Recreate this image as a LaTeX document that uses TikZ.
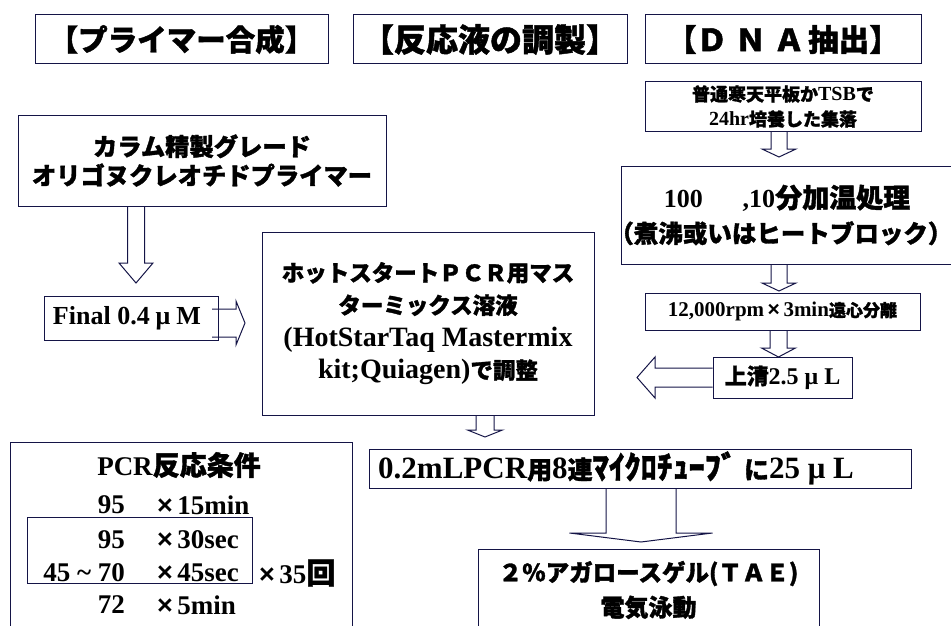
\documentclass[tikz,border=0pt]{standalone}
\usepackage{fontspec}
\setmainfont{Liberation Serif}
\newfontfamily\jp{Noto Sans CJK JP}[BoldFeatures={FakeBold=1.4}]
\newfontfamily\ls{Liberation Sans}
\usetikzlibrary{calc}
\newcommand\J[1]{{\jp #1}}
\newcommand\X{{\ls ×}}
\definecolor{boxc}{RGB}{20,20,70}
\newcommand\fs[2]{\fontsize{#1}{#2}\selectfont}
% block arrows: #1 start point, #2 tip point, #3 shaft half width, #4 head half width, #5 head length
\newcommand\bdown[5]{\draw[arr] let \p1=#1, \p2=#2 in
  (\x2-#3pt,\y1) -- (\x2-#3pt,\y2+#5pt) -- (\x2-#4pt,\y2+#5pt) -- (\p2)
  -- (\x2+#4pt,\y2+#5pt) -- (\x2+#3pt,\y2+#5pt) -- (\x2+#3pt,\y1);}
\newcommand\bleft[5]{\draw[arr] let \p1=#1, \p2=#2 in
  (\x1,\y2+#3pt) -- (\x2+#5pt,\y2+#3pt) -- (\x2+#5pt,\y2+#4pt) -- (\p2)
  -- (\x2+#5pt,\y2-#4pt) -- (\x2+#5pt,\y2-#3pt) -- (\x1,\y2-#3pt);}
\newcommand\bright[5]{\draw[arr] let \p1=#1, \p2=#2 in
  (\x1,\y2+#3pt) -- (\x2-#5pt,\y2+#3pt) -- (\x2-#5pt,\y2+#4pt) -- (\p2)
  -- (\x2-#5pt,\y2-#4pt) -- (\x2-#5pt,\y2-#3pt) -- (\x1,\y2-#3pt);}
\begin{document}
\begin{tikzpicture}[x=1pt,y=-1pt,
  box/.style={draw=boxc, line width=1pt, inner sep=0pt, align=center},
  txt/.style={inner sep=0pt},
  arr/.style={draw=boxc, line width=1pt, line join=miter}]
\useasboundingbox (0,0) rectangle (951,626);
% titles
\node[box, minimum width=293, minimum height=49, font=\bfseries\fs{29.5}{30}] (t1) at (181.5,39.5) {\J{【プライマー合成】}};
\node[box, minimum width=274, minimum height=49, font=\bfseries\fs{32}{32}] (t2) at (490,39.5) {\J{【反応液の調製】}};
\node[box, minimum width=276, minimum height=49, font=\bfseries\fs{30.5}{31}] (t3) at (783,39.5) {\J{【Ｄ\hspace{8pt}Ｎ\hspace{8pt}Ａ\hspace{4pt}抽出】}};
% DNA column
\node[box, minimum width=276, minimum height=49, font=\bfseries\fs{20}{25}] (col) at (783,106.5) {\J{\fs{18}{25}普通寒天平板か}TSB\J{\fs{18}{25}で}\\24hr\J{\fs{18}{25}培養した集落}};
\node[box, minimum width=332, minimum height=98, font=\bfseries\fs{26}{35}] (heat) at (787,215) {100\hspace{40pt},10\J{\fs{27}{35}分加温処理}\\\J{\fs{24.5}{35}\hspace{-12.25pt}（煮沸或いはヒートブロック）\hspace{-12.25pt}}};
\node[box, minimum width=275, minimum height=37, font=\bfseries\fs{21}{22}] (cent) at (782.5,311.5) {12,000rpm\,\X\,3min\J{\fs{17}{22}遠心分離}};
\node[box, minimum width=139, minimum height=41, font=\bfseries\fs{24}{26}] (sup) at (782.5,377.5) {\J{\fs{22}{26}上清}2.5 μ L};
% primer column
\node[box, minimum width=368, minimum height=91, font=\bfseries\fs{24.3}{29}] (prim) at (202,160.5) {\J{カラム精製グレード}\\\J{オリゴヌクレオチドプライマー}};
\node[box, minimum width=174, minimum height=44, font=\bfseries\fs{26}{27}] (fin) at (131,318) {Final 0.4\hspace{6pt}μ\hspace{6pt}M\hspace{8pt}};
% master mix
\node[box, minimum width=332, minimum height=183, font=\bfseries\fs{28}{32.5}] (hot) at (428,323.5) {\J{\fs{22.5}{32.5}ホットスタートＰＣＲ用マス}\\\J{\fs{22.5}{32.5}ターミックス溶液}\\(HotStarTaq Mastermix\\kit;Quiagen)\J{\fs{22.5}{32.5}で調整}};
\node[box, minimum width=542, minimum height=39, font=\bfseries\fs{31}{34}] (tube) at (640,468.5) {0.2mLPCR\J{\fs{25}{34}用}8\J{\fs{25}{34}連}\J{\fs{32}{34}ﾏｲｸﾛﾁｭｰﾌﾞ }\J{\fs{25}{34}に}25 μ L\hspace{48pt}};
\node[box, minimum width=341, minimum height=82, font=\bfseries\fs{23.5}{35}] (gel) at (648.5,590) {\J{２％アガロースゲル(ＴＡＥ)}\\\J{\fs{24}{35}電気泳動}};
% PCR conditions
\node[box, minimum width=342, minimum height=200] (pcr) at (181,542) {};
\node[box, minimum width=225, minimum height=66] (cyc) at (139.5,550) {};
\node[txt, font=\bfseries\fs{27}{30}] (ptitle) at (179,465) {PCR\J{反応条件}};
\begin{scope}[every node/.append style={font=\bfseries\fs{27}{28}}]
\node[txt, anchor=east] (r1a) at (125,505) {95};
\node[txt, anchor=west] (r1b) at (157,505) {\X\,15min};
\node[txt, anchor=east] (r2a) at (125,540) {95};
\node[txt, anchor=west] (r2b) at (157,540) {\X\,30sec};
\node[txt, anchor=east] (r3a) at (125,573) {45 \textasciitilde\ 70};
\node[txt, anchor=west] (r3b) at (157,573) {\X\,45sec};
\node[txt, anchor=west] (r3c) at (259,573) {\X\,35\J{\fs{29}{28}回}};
\node[txt, anchor=east] (r4a) at (125,605) {72};
\node[txt, anchor=west] (r4b) at (157,605) {\X\,5min};
\end{scope}
% arrow tips
\coordinate (tipA) at (136,283);
\coordinate (tipB) at (779,157);
\coordinate (tipC) at (779,291);
\coordinate (tipD) at (778.5,357);
\coordinate (tipE) at (637,377.5);
\coordinate (tipF) at (245,323);
\coordinate (startF) at (212,323);
\coordinate (tipG) at (485,437);
\coordinate (tipH) at (641,542);
% arrows
\bdown{(prim.south)}{(tipA)}{8.5}{17}{20}
\bdown{(col.south)}{(tipB)}{8}{17}{8}
\bdown{(heat.south)}{(tipC)}{8}{17}{8}
\bdown{(cent.south)}{(tipD)}{8.5}{17}{9}
\bleft{(sup.west)}{(tipE)}{9.5}{20.5}{18}
\bright{(startF)}{(tipF)}{14}{22}{9}
\bdown{(hot.south)}{(tipG)}{9}{17.5}{7}
\bdown{(tube.south)}{(tipH)}{35}{71.5}{9}
\end{tikzpicture}
\end{document}
